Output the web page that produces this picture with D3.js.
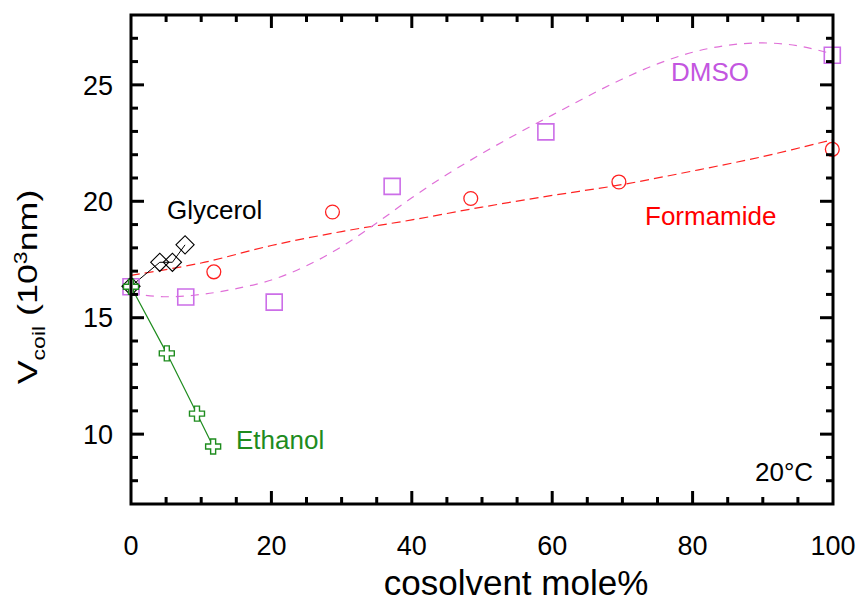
<!DOCTYPE html>
<html>
<head>
<meta charset="utf-8">
<script src="https://cdn.jsdelivr.net/npm/d3@7"></script>
<style>
  body { margin: 0; background: #fff; }
  svg text { font-family: "Liberation Sans", Arial, sans-serif; }
</style>
</head>
<body>
<svg width="858" height="602"></svg>
<script>
// measured points
var glycX = [0, 4.1, 5.9, 7.7];
var glycY = [16.35, 17.38, 17.38, 18.13];
var ethX = [0, 5.1, 9.4, 11.7];
var ethY = [16.33, 13.47, 10.88, 9.47];
var formX = [11.8, 28.7, 48.4, 69.5, 99.9];
var formY = [16.97, 19.54, 20.12, 20.83, 22.23];
var dmsoX = [0, 7.8, 20.4, 37.2, 59.1, 99.9];
var dmsoY = [16.33, 15.89, 15.67, 20.64, 22.98, 26.27];

// fit curves
var formFitX = [0, 10, 20, 30, 40, 50, 60, 70, 80, 90, 100];
var formFitY = [16.82, 17.35, 18.1, 18.7, 19.2, 19.75, 20.25, 20.72, 21.3, 21.92, 22.65];
var dmsoFitX = [0, 5, 10, 15, 20, 25, 30, 35, 40, 45, 50, 55, 60, 65, 70, 75, 80, 85, 90, 95, 100];
var dmsoFitY = [16.03, 15.9, 16.0, 16.25, 16.62, 17.23, 18.05, 19.07, 20.15, 21.15, 22.05, 22.9, 23.7, 24.5, 25.25, 25.9, 26.4, 26.7, 26.8, 26.68, 26.32];

var xTicks = [0, 20, 40, 60, 80, 100];
var yTicks = [10, 15, 20, 25];

var svg = d3.select("svg");
var x = d3.scaleLinear().domain([0, 100]).range([131, 833]);
var y = d3.scaleLinear().domain([7, 28]).range([504, 15]);

function pts(xs, ys) { return xs.map(function(v, i){ return [v, ys[i]]; }); }

var line = d3.line().x(function(d){return x(d[0]);}).y(function(d){return y(d[1]);});
var smooth = d3.line().curve(d3.curveCatmullRom).x(function(d){return x(d[0]);}).y(function(d){return y(d[1]);});

// fits
svg.append("path").attr("d", smooth(pts(formFitX, formFitY)))
  .attr("fill", "none").attr("stroke", "#ff2222").attr("stroke-width", 1.2).attr("stroke-dasharray", "9,5");
svg.append("path").attr("d", smooth(pts(dmsoFitX, dmsoFitY)))
  .attr("fill", "none").attr("stroke", "#e070d8").attr("stroke-width", 1.2).attr("stroke-dasharray", "8,7");

// connected lines
svg.append("path").attr("d", line(pts(glycX, glycY)))
  .attr("fill", "none").attr("stroke", "#000").attr("stroke-width", 1);
svg.append("path").attr("d", line(pts(ethX, ethY)))
  .attr("fill", "none").attr("stroke", "#1e8c1e").attr("stroke-width", 1.2);

function marks(data, sym, size, stroke, fill, rot, sw) {
  svg.append("g").selectAll("path").data(data).join("path")
    .attr("d", d3.symbol().type(sym).size(size)())
    .attr("transform", function(d){ return "translate(" + x(d[0]) + "," + y(d[1]) + ") rotate(" + rot + ")"; })
    .attr("fill", fill).attr("stroke", stroke).attr("stroke-width", sw);
}
marks(pts(formX, formY), d3.symbolCircle, 150, "#ff2020", "none", 0, 1.3);
marks(pts(dmsoX, dmsoY), d3.symbolSquare, 256, "#cc6ee8", "none", 0, 1.6);
marks(pts(glycX, glycY), d3.symbolSquare, 165, "#000", "none", 45, 1.1);
marks(pts(ethX, ethY), d3.symbolCross, 125, "#1e8c1e", "#fff", 0, 1.4);

// frame and ticks
var fr = svg.append("g").attr("stroke", "#000").attr("stroke-width", 3);
fr.append("rect").attr("x", x(0)).attr("y", y(28)).attr("width", x(100) - x(0)).attr("height", y(7) - y(28)).attr("fill", "none");
d3.range(5, 100, 5).forEach(function(v){
  var L = v % 20 === 0 ? 13 : 7;
  fr.append("line").attr("x1", x(v)).attr("x2", x(v)).attr("y1", y(7)).attr("y2", y(7) - L);
  fr.append("line").attr("x1", x(v)).attr("x2", x(v)).attr("y1", y(28)).attr("y2", y(28) + L);
});
d3.range(8, 28, 1).forEach(function(v){
  var L = v % 5 === 0 ? 13 : 7;
  fr.append("line").attr("y1", y(v)).attr("y2", y(v)).attr("x1", x(0)).attr("x2", x(0) + L);
  fr.append("line").attr("y1", y(v)).attr("y2", y(v)).attr("x1", x(100)).attr("x2", x(100) - L);
});

svg.append("g").selectAll("text").data(xTicks).join("text")
  .attr("x", function(d){return x(d);}).attr("y", 555)
  .attr("text-anchor", "middle").attr("font-size", 27).text(function(d){return d;});
svg.append("g").selectAll("text").data(yTicks).join("text")
  .attr("x", 113).attr("y", function(d){return y(d);}).attr("dy", "0.36em")
  .attr("text-anchor", "end").attr("font-size", 27).text(function(d){return d;});

// axis titles
svg.append("text").attr("x", 516).attr("y", 595).attr("text-anchor", "middle")
  .attr("font-size", 35).text("cosolvent mole%");
var yl = svg.append("text").attr("text-anchor", "middle").attr("font-size", 28)
  .attr("transform", "translate(37,287) rotate(-90) scale(1.28,1)");
yl.append("tspan").text("V");
yl.append("tspan").attr("font-size", 18).attr("dy", 8).text("coil");
yl.append("tspan").attr("dy", -8).text(" (10");
yl.append("tspan").attr("font-size", 18).attr("dy", -10).text("3");
yl.append("tspan").attr("dy", 10).text("nm)");

// series labels
svg.append("text").attr("x", 167).attr("y", 219).attr("font-size", 26).attr("fill", "#000").text("Glycerol");
svg.append("text").attr("x", 236).attr("y", 449).attr("font-size", 26).attr("fill", "#1e8c1e").text("Ethanol");
svg.append("text").attr("x", 645).attr("y", 225).attr("font-size", 26).attr("fill", "#ff0000").text("Formamide");
svg.append("text").attr("x", 671).attr("y", 81).attr("font-size", 26).attr("fill", "#c356e0").text("DMSO");
svg.append("text").attr("x", 755).attr("y", 481).attr("font-size", 26).attr("fill", "#000").text("20°C");
</script>
</body>
</html>
